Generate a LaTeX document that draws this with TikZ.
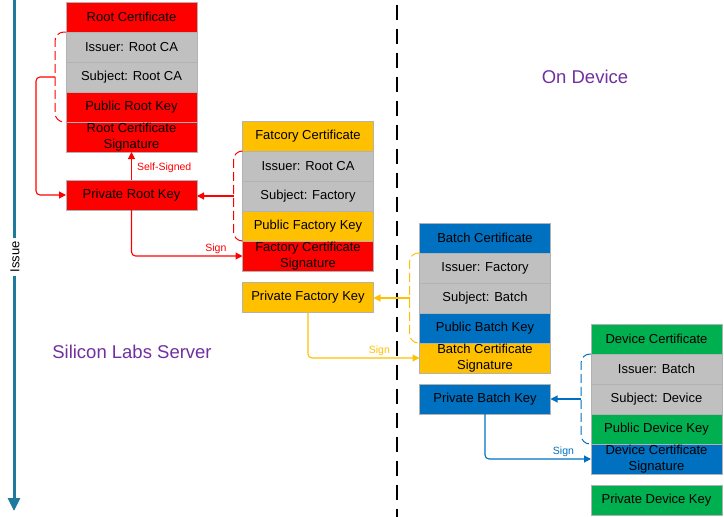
\documentclass[tikz,border=0pt]{standalone}
\usepackage{fontspec}
\setmainfont{Liberation Sans}
\usetikzlibrary{positioning,calc,arrows.meta}

\definecolor{rootred}{HTML}{FF0000}
\definecolor{factoryyellow}{HTML}{FFC000}
\definecolor{batchblue}{HTML}{0070C0}
\definecolor{devicegreen}{HTML}{00B050}
\definecolor{fieldgray}{HTML}{C0C0C0}
\definecolor{issueteal}{HTML}{1F7A9C}
\definecolor{sidepurple}{HTML}{7030A0}

\tikzset{
	cell/.style={draw=black!30, line width=0.9pt, outer sep=0pt, inner sep=0pt, minimum width=131pt, minimum height=30pt, align=center, font=\fontsize{13}{16}\selectfont},
	bracket/.style={line width=1pt, dash pattern=on 9pt off 4pt, rounded corners=9pt},
	link/.style={line width=1.1pt, rounded corners=4pt, -{Triangle[length=7pt,width=7pt]}},
	signlbl/.style={font=\fontsize{10.5}{11}\selectfont, inner sep=2pt},
	sidelbl/.style={text=sidepurple, font=\fontsize{18.5}{19}\selectfont}
}

\begin{document}
\begin{tikzpicture}[x=1pt, y=-1pt]
		%%%%% START %%%%%
		\useasboundingbox (0, 0) rectangle (724, 517);
		
		% issue axis
		\draw[issueteal, line width=3pt, -{Triangle[length=13pt,width=12pt]}] (14, 0) -- (14, 511);
		\node[fill=white, rotate=90, inner sep=3pt, font=\fontsize{13}{13}\selectfont] (issue) at (15, 257) {Issue};
		
		% server / device split
		\draw[line width=2pt, dash pattern=on 15pt off 9pt] (397, 5) -- (397, 517);
		\node[sidelbl] (server) at (132, 352) {Silicon Labs Server};
		\node[sidelbl] (device) at (585, 77) {On Device};
		
		% root certificate
		\node[cell, fill=rootred] (rc) at (131.5, 17) {Root Certificate};
		\node[cell, fill=fieldgray, below=0pt of rc] (ri) {Issuer: Root CA};
		\node[cell, fill=fieldgray, below=0pt of ri] (rs) {Subject: Root CA};
		\node[cell, fill=rootred, below=0pt of rs] (rk) {Public Root Key};
		\node[cell, fill=rootred, below=0pt of rk] (rsig) {Root Certificate\\Signature};
		\node[cell, fill=rootred] (prk) at (131.5, 195) {Private Root Key};
		
		% factory certificate
		\node[cell, fill=factoryyellow] (fc) at (308, 136) {Fatcory Certificate};
		\node[cell, fill=fieldgray, below=0pt of fc] (fi) {Issuer: Root CA};
		\node[cell, fill=fieldgray, below=0pt of fi] (fs) {Subject: Factory};
		\node[cell, fill=factoryyellow, below=0pt of fs] (fk) {Public Factory Key};
		\node[cell, fill=rootred, below=0pt of fk] (fsig) {Factory Certificate\\Signature};
		\node[cell, fill=factoryyellow] (pfk) at (308, 297.5) {Private Factory Key};
		
		% batch certificate
		\node[cell, fill=batchblue] (bc) at (485, 238) {Batch Certificate};
		\node[cell, fill=fieldgray, below=0pt of bc] (bi) {Issuer: Factory};
		\node[cell, fill=fieldgray, below=0pt of bi] (bs) {Subject: Batch};
		\node[cell, fill=batchblue, below=0pt of bs] (bk) {Public Batch Key};
		\node[cell, fill=factoryyellow, below=0pt of bk] (bsig) {Batch Certificate\\Signature};
		\node[cell, fill=batchblue] (pbk) at (485, 399) {Private Batch Key};
		
		% device certificate
		\node[cell, fill=devicegreen] (dc) at (656.5, 339) {Device Certificate};
		\node[cell, fill=fieldgray, below=0pt of dc] (di) {Issuer: Batch};
		\node[cell, fill=fieldgray, below=0pt of di] (ds) {Subject: Device};
		\node[cell, fill=devicegreen, below=0pt of ds] (dk) {Public Device Key};
		\node[cell, fill=batchblue, below=0pt of dk] (dsig) {Device Certificate\\Signature};
		\node[cell, fill=devicegreen] (pdk) at (656.5, 500) {Private Device Key};
		
		% brackets round the signed fields
		\draw[bracket, rootred] (ri.north west) -- ++(-11, 0) |- (rk.south west);
		\draw[bracket, rootred] (fi.north west) -- ++(-9, 0) |- (fk.south west);
		\draw[bracket, factoryyellow] (bi.north west) -- ++(-10, 0) |- (bk.south west);
		\draw[bracket, batchblue] (di.north west) -- ++(-10, 0) |- (dk.south west);
		
		\coordinate (rootmid) at ($(ri.north west)!0.5!(rk.south west) + (-11, 0)$);
		\coordinate (factmid) at ($(fi.north west)!0.5!(fk.south west) + (-9, 0)$);
		\coordinate (batchmid) at ($(bi.north west)!0.5!(bk.south west) + (-10, 0)$);
		\coordinate (devmid) at ($(di.north west)!0.5!(dk.south west) + (-10, 0)$);
		
		% key links
		\draw[link, rootred] (rootmid) -- ++(-19, 0) |- (prk.west);
		\draw[link, rootred] (factmid) -- (prk.east |- factmid);
		\draw[link, factoryyellow] (batchmid) -- (pfk.east |- batchmid);
		\draw[link, batchblue] (devmid) -- (pbk.east |- devmid);
		
		% signing
		\draw[link, rootred] (prk.north) -- node[signlbl, right, xshift=3pt, yshift=-2pt, text=rootred] {Self-Signed} (rsig.south);
		\draw[link, rootred] (prk.south) |- node[signlbl, above, pos=0.88, text=rootred] {Sign} (fsig.west);
		\draw[link, factoryyellow] (pfk.south) |- node[signlbl, above, pos=0.82, text=factoryyellow] {Sign} (bsig.west);
		\draw[link, batchblue] (pbk.south) |- node[signlbl, above, pos=0.87, text=batchblue] {Sign} (dsig.west);
		
		%%%%% END %%%%%
	\end{tikzpicture}
\end{document}
